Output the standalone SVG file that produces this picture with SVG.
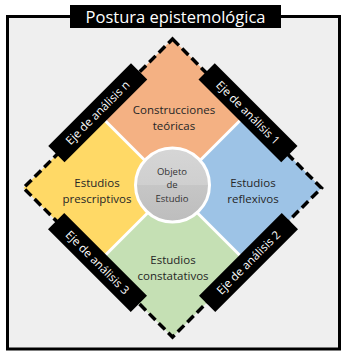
<svg xmlns="http://www.w3.org/2000/svg" width="347" height="357" viewBox="0 0 347 357">
<defs>
<style>
text{font-family:"Open Sans","Noto Sans","DejaVu Sans",sans-serif;text-anchor:middle;}
.q{font-size:11.5px;fill:#262626;}
.lbl{font-size:11.5px;fill:#ffffff;}
.box{fill:#000000;}
.sep{stroke:#ffffff;stroke-width:3;}
.c{font-size:9.5px;fill:#333333;}
</style>
<linearGradient id="g" x1="0" y1="0" x2="0" y2="1">
<stop offset="0" stop-color="#d6d6d6"/>
<stop offset="0.5" stop-color="#cfcfcf"/>
<stop offset="0.5" stop-color="#c6c6c6"/>
<stop offset="1" stop-color="#bdbdbd"/>
</linearGradient>
</defs>
<rect width="347" height="357" fill="#ffffff"/>
<g id="frame">
<rect x="7.5" y="16.5" width="332" height="332.5" fill="#efefef" stroke="#000" stroke-width="3"/>
<rect x="70" y="5" width="211" height="23" fill="#000"/>
<text x="175.5" y="22.5" style="font-size:16.5px;fill:#fff">Postura epistemológica</text>
</g>
<g id="q-top">
<polygon points="172.5,39 247,113.5 172.5,188 98,113.5" fill="#f4b183"/>
<text class="q" x="174" y="114">Construcciones</text>
<text class="q" x="174" y="130">teóricas</text>
</g>
<g id="q-right">
<polygon points="247,113.5 321.5,188 247,262.5 172.5,188" fill="#9dc3e6"/>
<text class="q" x="253" y="187">Estudios</text>
<text class="q" x="253" y="203">reflexivos</text>
</g>
<g id="q-bottom">
<polygon points="172.5,188 247,262.5 172.5,337 98,262.5" fill="#c5e0b4"/>
<text class="q" x="173" y="264">Estudios</text>
<text class="q" x="173" y="280">constatativos</text>
</g>
<g id="q-left">
<polygon points="98,113.5 172.5,188 98,262.5 23.5,188" fill="#ffd966"/>
<text class="q" x="97" y="187">Estudios</text>
<text class="q" x="97" y="203">prescriptivos</text>
</g>
<g id="connectors">
<line class="sep" x1="172.5" y1="188" x2="98" y2="113.5"/>
<line class="sep" x1="172.5" y1="188" x2="247" y2="113.5"/>
<line class="sep" x1="172.5" y1="188" x2="247" y2="262.5"/>
<line class="sep" x1="172.5" y1="188" x2="98" y2="262.5"/>
<polygon points="172.5,39 321.5,188 172.5,337 23.5,188" fill="none" stroke="#000" stroke-width="3.5" stroke-dasharray="9 4.5" stroke-linejoin="miter"/>
</g>
<g id="center">
<circle cx="172.5" cy="185" r="37" fill="url(#g)" stroke="#ffffff" stroke-width="3"/>
<text class="c" x="172" y="175">Objeto</text>
<text class="c" x="172" y="188">de</text>
<text class="c" x="172" y="202">Estudio</text>
</g>
<g id="axis-n" transform="translate(97.75,112.75) rotate(-45)">
<rect class="box" x="-58.5" y="-11.5" width="117" height="23"/>
<text class="lbl" x="0" y="4">Eje de análisis n</text>
</g>
<g id="axis-1" transform="translate(248,112.75) rotate(45)">
<rect class="box" x="-58.5" y="-11.5" width="117" height="23"/>
<text class="lbl" x="0" y="4">Eje de análisis 1</text>
</g>
<g id="axis-2" transform="translate(248.5,262.5) rotate(-45)">
<rect class="box" x="-58.5" y="-11.5" width="117" height="23"/>
<text class="lbl" x="0" y="4">Eje de análisis 2</text>
</g>
<g id="axis-3" transform="translate(97.5,262.5) rotate(45)">
<rect class="box" x="-58.5" y="-11.5" width="117" height="23"/>
<text class="lbl" x="0" y="4">Eje de análisis 3</text>
</g>
</svg>
